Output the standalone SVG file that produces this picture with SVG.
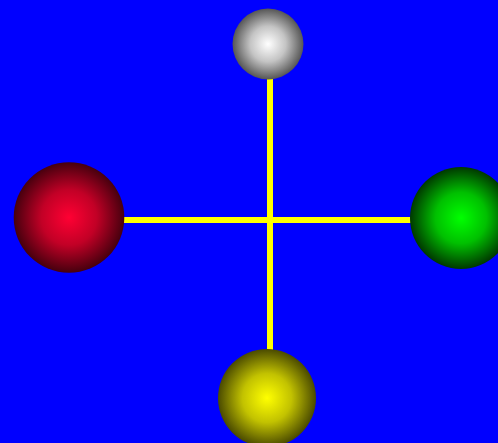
<svg xmlns="http://www.w3.org/2000/svg" width="498" height="443" viewBox="0 0 498 443">
<defs>
<radialGradient id="gw"><stop offset="0" stop-color="#ffffff"/><stop offset="0.5" stop-color="#c4c4c4"/><stop offset="1" stop-color="#555555"/></radialGradient>
<radialGradient id="gr"><stop offset="0" stop-color="#ff0033"/><stop offset="0.5" stop-color="#c20026"/><stop offset="1" stop-color="#46000e"/></radialGradient>
<radialGradient id="gg"><stop offset="0" stop-color="#00ff00"/><stop offset="0.5" stop-color="#00c000"/><stop offset="1" stop-color="#003800"/></radialGradient>
<radialGradient id="gy"><stop offset="0" stop-color="#ffff00"/><stop offset="0.5" stop-color="#c2c200"/><stop offset="1" stop-color="#4a4a00"/></radialGradient>
</defs>
<style>.c{stroke:#ffff00;stroke-width:6;fill:none}</style>
<rect width="498" height="443" fill="#0000ff"/>
<g id="connectors">
<line class="c" x1="270" y1="44" x2="270" y2="398"/>
<line class="c" x1="69" y1="220" x2="461" y2="220"/>
</g>
<g id="top"><circle cx="268" cy="44" r="35.5" fill="url(#gw)"/></g>
<g id="left"><circle cx="69" cy="217.5" r="55.3" fill="url(#gr)"/></g>
<g id="right"><circle cx="461" cy="218" r="51" fill="url(#gg)"/></g>
<g id="bottom"><circle cx="267" cy="398" r="49" fill="url(#gy)"/></g>
</svg>
